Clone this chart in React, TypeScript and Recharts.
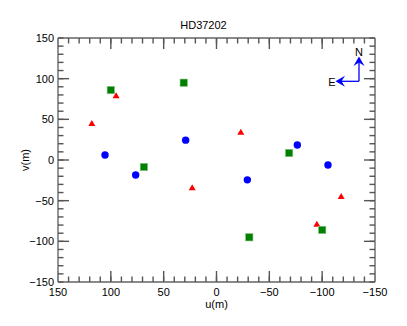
import React from "react";
import { ScatterChart, Scatter, XAxis, YAxis, ReferenceLine } from "recharts";

// baselines (u, v) in metres
const triU = [118, 95, 23, -23, -95, -118];
const triV = [45, 79, -34, 34, -79, -45];
const circU = [105.5, 76.5, 29.2, -29.2, -76.5, -105.5];
const circV = [6.1, -18.4, 24.4, -24.4, 18.4, -6.1];
const sqU = [100, 31, 68.7, -68.7, -31, -100];
const sqV = [86, 95, -8.6, 8.6, -95, -86];

const majorTicks = [150, 100, 50, 0, -50, -100, -150];
const allTicks = Array.from({ length: 31 }, (_, i) => 150 - i * 10);

const toPoints = (u: number[], v: number[]) => u.map((x, i) => ({ u: x, v: v[i] }));
const triData = toPoints(triU, triV);
const circData = toPoints(circU, circV);
const sqData = toPoints(sqU, sqV);

const FONT = "'Liberation Sans', Arial, sans-serif";
const TICK = "#555";
const AXIS = "#8a8a8a";
// long (major) tick length, in data units along each axis (~11px)
const MAJ_U = 10.4;
const MAJ_V = 13.5;

const fmt = (n: number) => (n < 0 ? "\u2212" + Math.abs(n) : String(n));
const isMajor = (n: number) => n % 50 === 0;

const BottomLabel = (p: any) => {
  const val = Number(p.payload.value);
  if (!isMajor(val)) return <g />;
  return (
    <text x={p.x} y={p.y + 19} textAnchor="middle" fontSize={11} fontFamily={FONT} fill="#000">
      {fmt(val)}
    </text>
  );
};

const LeftLabel = (p: any) => {
  const val = Number(p.payload.value);
  if (!isMajor(val)) return <g />;
  return (
    <text x={p.x - 9.5} y={p.y + 4} textAnchor="end" fontSize={11} fontFamily={FONT} fill="#000">
      {fmt(val)}
    </text>
  );
};

const Nothing = () => <g />;

const Triangle = (p: any) => (
  <polygon
    points={`${p.cx},${p.cy - 3.5} ${p.cx + 3.5},${p.cy + 2.5} ${p.cx - 3.5},${p.cy + 2.5}`}
    fill="#ff0000"
  />
);
const Circle = (p: any) => <circle cx={p.cx} cy={p.cy} r={3.7} fill="#0000ff" />;
const Square = (p: any) => (
  <rect x={p.cx - 3.7} y={p.cy - 3.7} width={7.4} height={7.4} fill="#008000" stroke="#8fc48f" strokeWidth={0.6} />
);

export default function App() {
  const axisCommon = {
    type: "number" as const,
    domain: [-150, 150],
    ticks: allTicks,
    interval: 0 as const,
    tickSize: -5.5,
    tickMargin: 0,
    tickLine: { stroke: TICK, strokeWidth: 1.4 },
    allowDataOverflow: true,
    axisLine: { stroke: AXIS, strokeWidth: 1.8 },
  };
  const tickStyle = { stroke: TICK, strokeWidth: 1.4 };

  return (
    <div style={{ position: "absolute", left: 0, top: 0, width: 407, height: 326, background: "#fff" }}>
      <ScatterChart width={407} height={326} margin={{ top: 37, right: 31, bottom: 0, left: 0 }}>
        <XAxis
          {...axisCommon}
          dataKey="u"
          reversed
          height={44}
          tick={<BottomLabel />}
          label={{ value: "u(m)", position: "insideBottom", offset: 18, fontSize: 11, fontFamily: FONT, fill: "#000" }}
        />
        <XAxis {...axisCommon} dataKey="u" xAxisId="top" orientation="top" reversed height={1} tick={<Nothing />} />
        <YAxis
          {...axisCommon}
          dataKey="v"
          width={58}
          tick={<LeftLabel />}
          label={{
            value: "v(m)",
            angle: -90,
            position: "insideLeft",
            offset: 25,
            fontSize: 11,
            fontFamily: FONT,
            fill: "#000",
            style: { textAnchor: "middle" },
          }}
        />
        <YAxis {...axisCommon} dataKey="v" yAxisId="right" orientation="right" width={1} tick={<Nothing />} />

        {majorTicks.map((t) => (
          <ReferenceLine key={`b${t}`} segment={[{ x: t, y: -150 }, { x: t, y: -150 + MAJ_V }]} {...tickStyle} />
        ))}
        {majorTicks.map((t) => (
          <ReferenceLine key={`t${t}`} segment={[{ x: t, y: 150 }, { x: t, y: 150 - MAJ_V }]} {...tickStyle} />
        ))}
        {majorTicks.map((t) => (
          <ReferenceLine key={`l${t}`} segment={[{ x: 150, y: t }, { x: 150 - MAJ_U, y: t }]} {...tickStyle} />
        ))}
        {majorTicks.map((t) => (
          <ReferenceLine key={`r${t}`} segment={[{ x: -150, y: t }, { x: -150 + MAJ_U, y: t }]} {...tickStyle} />
        ))}

        <Scatter data={triData} shape={Triangle} isAnimationActive={false} />
        <Scatter data={circData} shape={Circle} isAnimationActive={false} />
        <Scatter data={sqData} shape={Square} isAnimationActive={false} />
        <Scatter data={sqData} xAxisId="top" yAxisId="right" shape={Nothing} isAnimationActive={false} />
      </ScatterChart>
      <svg width={407} height={326} style={{ position: "absolute", left: 0, top: 0, pointerEvents: "none" }}>
        <text x={203.5} y={29} textAnchor="middle" fontSize={11} fontFamily={FONT} fill="#000">
          HD37202
        </text>
        <line x1={359} y1={81.3} x2={359} y2={61} stroke="#0000ff" strokeWidth={1.3} />
        <polygon points="359,56.5 364.5,66 359,62.5 353.5,66" fill="#0000ff" />
        <line x1={359} y1={81.3} x2={340} y2={81.3} stroke="#0000ff" strokeWidth={1.3} />
        <polygon points="335.5,81.3 345,75.8 341.5,81.3 345,86.8" fill="#0000ff" />
        <text x={359} y={56} textAnchor="middle" fontSize={11} fontFamily={FONT} fill="#000">
          N
        </text>
        <text x={332} y={85.5} textAnchor="middle" fontSize={11} fontFamily={FONT} fill="#000">
          E
        </text>
      </svg>
    </div>
  );
}
